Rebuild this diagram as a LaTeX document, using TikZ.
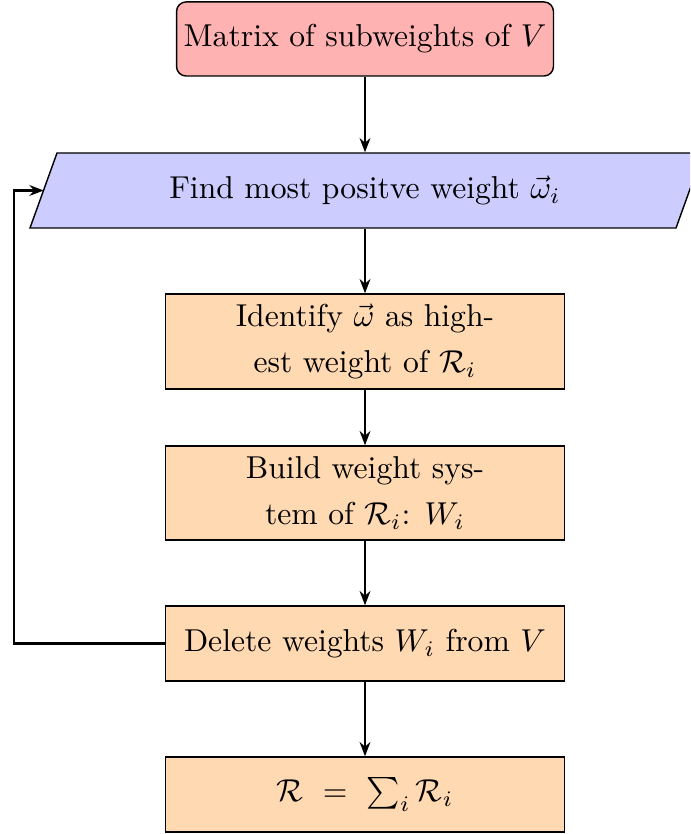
\documentclass[tikz,border=0pt]{standalone}
\usetikzlibrary{arrows.meta}
\begin{document}
\begin{tikzpicture}[
    x=0.316pt, y=-0.316pt,
    font=\fontsize{10}{14.5}\selectfont,
    startbox/.style={draw, line width=0.45pt, fill=red!30, rounded corners=3pt,
      minimum width=119.1pt, minimum height=23.4pt, inner sep=0pt, align=center},
    procbox/.style={draw, line width=0.45pt, fill=orange!30,
      minimum width=126.1pt, inner sep=0pt, align=center},
    iobox/.style={minimum width=189pt, minimum height=23.7pt, inner sep=0pt},
    arr/.style={-{Stealth[length=4.5pt,width=3.4pt]}, line width=0.75pt}
  ]
  \useasboundingbox (0,0) rectangle (690,834);

  % start node
  \node[startbox] (start) at (365,39) {Matrix of subweights of $V$};

  % input/output parallelogram, its right end runs off the page
  \begin{scope}
    \clip (0,0) rectangle (690,834);
    \path[draw, line width=0.45pt, fill=blue!20] (57,153) -- (703,153) -- (676,228) -- (30,228) -- cycle;
  \end{scope}
  \node[iobox] (find) at (365,190.5) {Find most positve weight $\vec{\omega}_i$};
  \coordinate (loopin) at (43.7,190.5);

  % process steps
  \node[procbox, minimum height=30pt] (ident) at (365,341.5)
    {Identify $\vec{\omega}$ as high-\\est weight of $\mathcal{R}_i$};
  \node[procbox, minimum height=29.7pt] (build) at (365,493)
    {Build weight sys-\\tem of $\mathcal{R}_i$: $W_i$};
  \node[procbox, minimum height=23.7pt] (del) at (365,643.5)
    {Delete weights $W_i$ from $V$};
  \node[procbox, minimum height=23.7pt] (sum) at (365,794.5)
    {$\mathcal{R}\ =\ \sum_i\mathcal{R}_i$};

  % connectors
  \draw[arr] (start) -- (find);
  \draw[arr] (find) -- (ident);
  \draw[arr] (ident) -- (build);
  \draw[arr] (build) -- (del);
  \draw[arr] (del) -- (sum);
  \draw[arr] (del.west) -- ++(-151,0) |- (loopin);
\end{tikzpicture}
\end{document}
